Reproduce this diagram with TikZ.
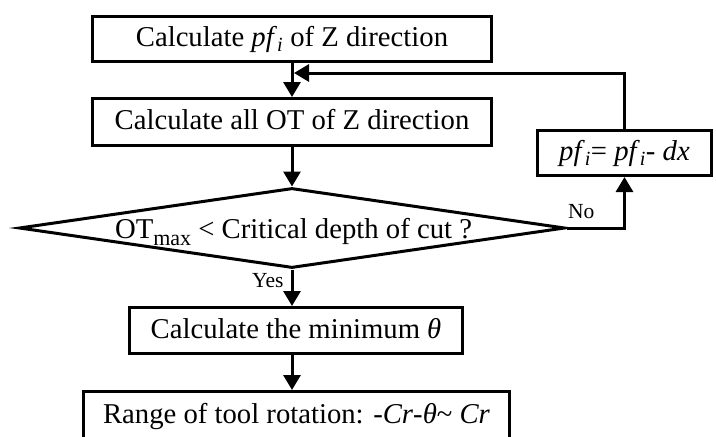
\documentclass[tikz,border=0pt]{standalone}
\usepackage{fontspec}
\setmainfont{Liberation Serif}
\usetikzlibrary{arrows.meta,shapes.geometric}
\newcommand{\subi}{\textsubscript{\textit{i}}}
\begin{document}
\begin{tikzpicture}[x=1pt,y=-1pt,
  box/.style={draw,line width=3pt,inner sep=0pt,font=\fontsize{28.7}{28.7}\selectfont,text height=23pt,text depth=7.5pt},
  dia/.style={draw,line width=3pt,diamond,inner sep=0pt},
  arr/.style={line width=3pt,-{Triangle[width=17pt,length=15pt]}},
  lbl/.style={font=\fontsize{21.5}{21.5}\selectfont,inner sep=0pt,anchor=base west},
  txt/.style={font=\fontsize{28.7}{28.7}\selectfont,inner sep=0pt,anchor=base}]
\useasboundingbox (0,0) rectangle (716,437);
\clip (0,0) rectangle (716,437);
\node[box,minimum width=399pt,minimum height=45pt] (b1) at (292,39) {Calculate \textit{pf}\subi{} of Z direction};
\node[box,minimum width=399pt,minimum height=47pt] (b2) at (292,122) {Calculate all OT of Z direction};
\node[dia,minimum width=546pt,minimum height=80pt] (d) at (292,228) {};
\node[txt] (dt) at (293.5,238) {OT\raisebox{-7pt}{\fontsize{22}{22}\selectfont max} < Critical depth of cut ?};
\node[box,minimum width=174pt,minimum height=45pt] (b3) at (624.5,153) {\textit{pf}\subi= \textit{pf}\subi- \textit{dx}};
\node[box,minimum width=333pt,minimum height=46pt] (b4) at (296,330.5) {Calculate the minimum \textit{θ}};
\node[box,minimum width=426pt,minimum height=51pt,text depth=10pt] (b5) at (296.5,417) {Range of tool rotation: -\textit{Cr}-\textit{θ}\textasciitilde{} \textit{Cr}};
\node[lbl] (no) at (568,218) {No};
\node[lbl] (yes) at (252,287) {Yes};
\coordinate (j) at (294,73);
\draw[arr] (b1) -- (b2);
\draw[arr] (b3.north) |- (j);
\draw[arr] (b2) -- (d);
\draw[arr] (d.east) -| (b3.south);
\draw[arr] (d.south) -- (d.south |- b4.north);
\draw[arr] (b4.south -| d.south) -- (b5.north -| d.south);
\end{tikzpicture}
\end{document}
